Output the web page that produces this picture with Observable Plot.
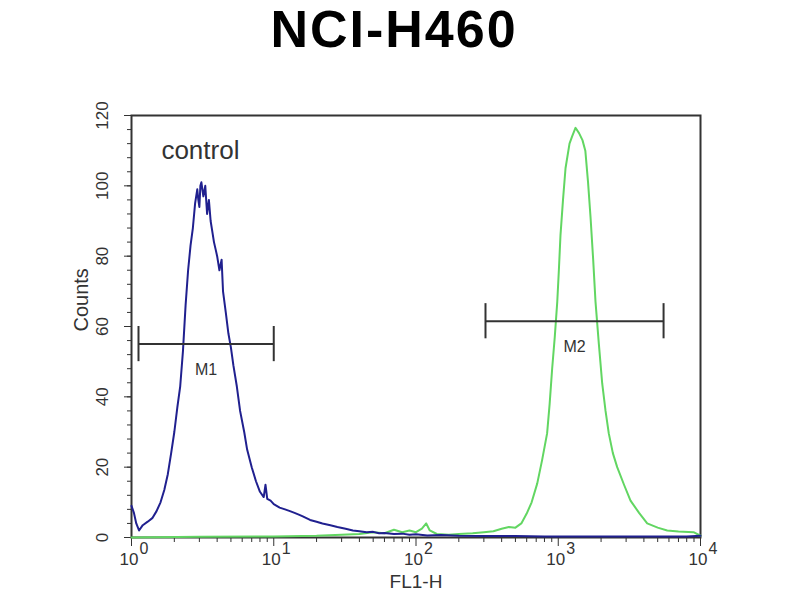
<!DOCTYPE html>
<html><head><meta charset="utf-8">
<script src="https://cdn.jsdelivr.net/npm/d3@7"></script>
<script src="https://cdn.jsdelivr.net/npm/@observablehq/plot@0.6"></script>
<style>
body{margin:0;background:#fff;}
#wrap{width:800px;height:600px;position:relative;overflow:hidden;background:#fff;}
#title{height:58px;line-height:58px;text-align:center;font-weight:bold;font-size:52px;font-family:"Liberation Sans",Arial,sans-serif;letter-spacing:2px;padding-right:12px;color:#000;}
</style></head><body>
<div id="wrap"><div id="title">NCI-H460</div><div id="chart"></div></div>
<script>
// Control (blue) histogram
const controlFL1 = [1.00,1.04,1.08,1.13,1.20,1.30,1.40,1.50,1.60,1.70,1.80,1.90,2.00,2.10,2.20,2.30,2.40,2.50,2.60,2.70,2.80,2.90,2.95,3.00,3.05,3.10,3.20,3.30,3.40,3.50,3.60,3.70,3.80,3.90,4.00,4.15,4.30,4.40,4.60,4.80,5.00,5.20,5.50,5.80,6.20,6.50,7.00,7.50,8.00,8.50,8.75,9.00,9.50,10,11,12,13,14,15,16,18,20,22,25,28,32,36,40,45,50,55,60,70,80,90,100,120,150,200,300,500,800,1200,2000,3000,5000,8000,10000];
const controlCounts = [9,7,4,2,3.5,4.5,5.5,7.5,10,13.5,18,24,30,37,43,53,66,76,83,88,95,99,96,94,100,101,97,100,92,96,90,87,84,82,80,76,79,70,64,58,54,49,43,36,30,25,20,16,13,11.5,15,11,10.5,9.5,8.5,8,7.5,7,6.5,6,5,4.5,4,3.5,3,2.5,2,1.8,1.5,1.6,1.2,1.3,1,1.1,0.8,0.9,0.6,0.7,0.5,0.4,0.4,0.3,0.3,0.3,0.3,0.3,0.3,0.5];
// Sample (green) histogram
const sampleFL1 = [1,3,10,20,30,40,50,60,70,80,90,100,110,118,125,140,170,200,250,300,350,400,450,500,550,600,650,712,770,835,870,906,945,984,1010,1037,1080,1125,1200,1250,1322,1400,1480,1550,1620,1687,1760,1828,1930,2037,2150,2266,2420,2596,2900,3221,3700,4220,5000,5835,7000,8935,10000];
const sampleCounts = [0,0.2,0.3,0.5,0.8,1,1.5,1.2,2.2,1.5,2,1.5,2.5,4,2,1,0.8,1,1.2,1.5,1.8,2.5,3,2.8,4,6.8,10,15.4,22,29.6,38,48,57,67,76,86,96,105,112,114,116.5,115,113,110,101,91,79,67,55,43.8,36,29.6,24,20,15,10.5,7,4,2.8,2,1.7,1.5,0.5];
// Markers
const markerNames = ["M1","M2"];
const markerStart = [1.12, 308];
const markerEnd = [10, 5500];
const markerLevel = [55, 61.5];
// Ticks
const yTicks = [0,20,40,60,80,100,120];
const yMinorTicks = d3.range(0, 121, 4);
const xTicks = [1,10,100,1000,10000];
const xTickBase = "10";
const xTickExp = ["0","1","2","3","4"];
const xMinorTicks = [];
for (const d of [1,10,100,1000]) for (let k = 2; k <= 9; k++) xMinorTicks.push(d*k);

const control = controlFL1.map((x,i)=>({x, y: controlCounts[i]}));
const sample = sampleFL1.map((x,i)=>({x, y: sampleCounts[i]}));
const markers = markerNames.map((name,i)=>({name, start: markerStart[i], end: markerEnd[i], level: markerLevel[i]}));
const markerEnds = markers.flatMap(m => [{x: m.start, level: m.level}, {x: m.end, level: m.level}]);
const xLabels = xTicks.map((v,i)=>({v, exp: xTickExp[i]}));

const chart = Plot.plot({
  width: 800, height: 542,
  marginTop: 57, marginBottom: 63, marginLeft: 131, marginRight: 100,
  style: {fontFamily: '"Liberation Sans", Arial, sans-serif', fontSize: "17px", color: "#333", background: "#fff"},
  x: {type: "log", domain: [1, 10000], label: null},
  y: {domain: [0, 120], label: null},
  marks: [
    Plot.axisY(yMinorTicks, {tickSize: 4, text: null, label: null}),
    Plot.axisY(yTicks, {tickSize: 7, tickRotate: -90, tickPadding: 17, label: null, fontSize: 17}),
    Plot.axisX(xMinorTicks, {tickSize: 5, text: null, label: null}),
    Plot.axisX(xTicks, {tickSize: 9, text: null, label: null}),
    Plot.text(xLabels, {x: "v", frameAnchor: "bottom", text: () => xTickBase, textAnchor: "end", dx: 7, dy: 27, fontSize: 17, fill: "#333"}),
    Plot.text(xLabels, {x: "v", frameAnchor: "bottom", text: "exp", textAnchor: "start", dx: 8, dy: 16, fontSize: 16, fill: "#333"}),
    Plot.text(["FL1-H"], {frameAnchor: "bottom", text: d => d, dy: 50, fontSize: 19, fill: "#333"}),
    Plot.text(["Counts"], {frameAnchor: "left", text: d => d, rotate: -90, dx: -50, dy: 5, fontSize: 20, fill: "#333"}),
    Plot.frame({stroke: "#333", strokeWidth: 2}),
    Plot.line(sample, {x: "x", y: "y", stroke: "#62d662", strokeWidth: 2}),
    Plot.line(control, {x: "x", y: "y", stroke: "#20208f", strokeWidth: 2}),
    Plot.ruleY(markers, {y: "level", x1: "start", x2: "end", stroke: "#333", strokeWidth: 2}),
    Plot.ruleX(markerEnds, {x: "x", y1: d => d.level - 5, y2: d => d.level + 5, stroke: "#333", strokeWidth: 2}),
    Plot.text(markers, {x: d => Math.sqrt(d.start * d.end), y: "level", text: "name", dy: 26, fontSize: 16, fill: "#333"}),
    Plot.text(["control"], {x: () => 3.05, y: () => 110, text: d => d, fontSize: 26, fill: "#333"})
  ]
});
document.getElementById("chart").appendChild(chart);
</script>
</body></html>
